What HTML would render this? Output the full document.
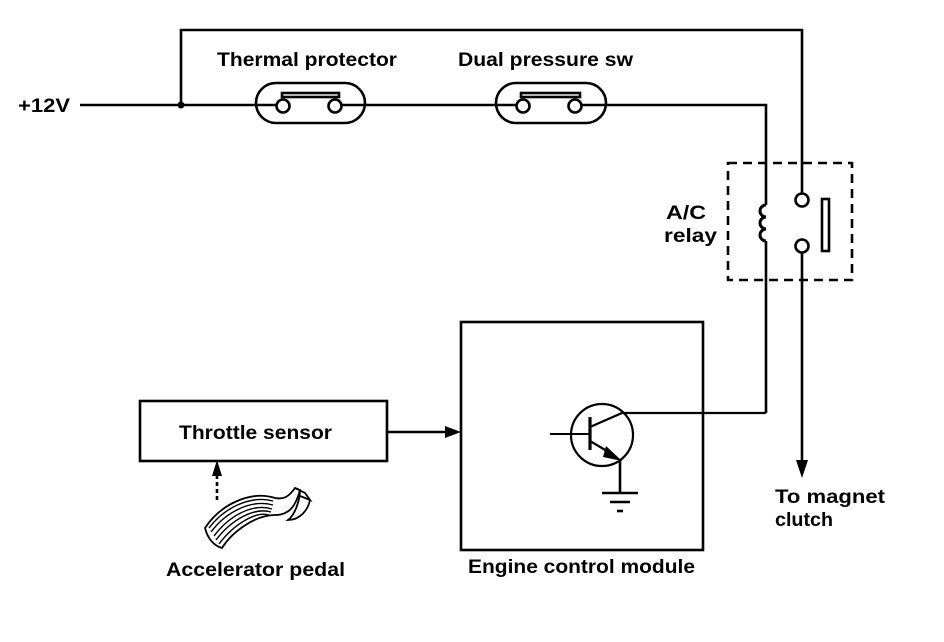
<!DOCTYPE html>
<html><head><meta charset="utf-8"><style>
html,body{margin:0;padding:0;background:#fff;}
svg{display:block;}
text{font-family:"Liberation Sans",Arial,sans-serif;font-size:19px;font-weight:bold;fill:#000;}
</style></head><body>
<svg width="944" height="642" viewBox="0 0 944 642" xmlns="http://www.w3.org/2000/svg">
<g stroke="#000" stroke-width="2.6" fill="none">
<line x1="80" y1="105" x2="258" y2="105"/>
<line x1="363" y1="105" x2="498" y2="105"/>
<polyline points="603,105 766,105 766,200"/>
<rect x="256" y="83" width="109" height="40" rx="20"/>
<line x1="258" y1="105" x2="276" y2="105"/>
<line x1="342" y1="105" x2="363" y2="105"/>
<circle cx="283" cy="106" r="6.5"/>
<circle cx="335" cy="106" r="6.5"/>
<rect x="282" y="93" width="57" height="4"/>
<rect x="496" y="83" width="110" height="40" rx="20"/>
<line x1="498" y1="105" x2="516" y2="105"/>
<line x1="582" y1="105" x2="603" y2="105"/>
<circle cx="523" cy="106" r="6.5"/>
<circle cx="575" cy="106" r="6.5"/>
<rect x="521" y="93" width="59" height="4"/>
<polyline points="181,105 181,30 802,30 802,193"/>
<line x1="766" y1="200" x2="766" y2="205"/>
<path d="M766,205 a6,6 0 1 0 0,12 a6,6 0 1 0 0,12 a6,6 0 1 0 0,12" stroke-width="3"/>
<line x1="766" y1="241" x2="766" y2="413"/>
<circle cx="802" cy="200" r="6.5"/>
<circle cx="802" cy="246" r="6.5"/>
<line x1="802" y1="253" x2="802" y2="462"/>
<rect x="822" y="199" width="7" height="52"/>
<rect x="728" y="163" width="124" height="117" stroke-dasharray="9,6"/>
<rect x="140" y="401" width="247" height="60"/>
<line x1="387" y1="432" x2="445" y2="432"/>
<rect x="461" y="322" width="242" height="228"/>
<circle cx="602" cy="435" r="31" stroke-width="2.2"/>
<line x1="550" y1="434" x2="590" y2="434" stroke-width="2"/>
<line x1="590" y1="417" x2="590" y2="450" stroke-width="3.2"/>
<polyline points="590,427 622,413 766,413" stroke-width="2.2"/>
<line x1="590" y1="441" x2="612" y2="454" stroke-width="2.2"/>
<polyline points="620,460 620,493"/>
<line x1="602" y1="493" x2="638" y2="493"/>
<line x1="610" y1="502" x2="630" y2="502"/>
<line x1="617" y1="511" x2="623" y2="511"/>
<line x1="217" y1="500" x2="217" y2="474" stroke-dasharray="4,3"/>
<path d="M205,528 C220,505 250,490 275,498 C285,500 290,495 295,488 L300,490 C296,505 290,515 275,515 C255,515 232,532 222,548 C215,546 208,540 205,528 Z" stroke-width="1.8"/>
<path d="M209,528 C224,508 250,495 273,501 M211,532 C226,512 251,499 273,505 M214,536 C229,516 252,503 272,509 M216,540 C231,520 254,507 271,512 M219,544 C234,524 256,511 269,515" stroke-width="1.4"/>
<path d="M295,488 L305,493 L310,500 L300,496 M300,490 C300,500 295,515 288,520 C300,520 308,510 310,500" stroke-width="1.8"/>
</g>
<g fill="#000">
<circle cx="181" cy="105" r="3.5"/>
<polygon points="445,426 461,432 445,438"/>
<polygon points="796,460 808,460 802,478"/>
<polygon points="212,476 222,476 217,460"/>
<polygon points="606,446 622,461 603,457"/>
</g>
<text x="18" y="112" textLength="52" lengthAdjust="spacingAndGlyphs">+12V</text>
<text x="217" y="66" textLength="180" lengthAdjust="spacingAndGlyphs">Thermal protector</text>
<text x="458" y="66" textLength="175" lengthAdjust="spacingAndGlyphs">Dual pressure sw</text>
<text x="666" y="219" textLength="40" lengthAdjust="spacingAndGlyphs">A/C</text>
<text x="664" y="242" textLength="53" lengthAdjust="spacingAndGlyphs">relay</text>
<text x="179" y="439" textLength="153" lengthAdjust="spacingAndGlyphs">Throttle sensor</text>
<text x="166" y="576" textLength="179" lengthAdjust="spacingAndGlyphs">Accelerator pedal</text>
<text x="468" y="573" textLength="227" lengthAdjust="spacingAndGlyphs">Engine control module</text>
<text x="775" y="503" textLength="110" lengthAdjust="spacingAndGlyphs">To magnet</text>
<text x="775" y="526" textLength="58" lengthAdjust="spacingAndGlyphs">clutch</text>
</svg>
</body></html>
